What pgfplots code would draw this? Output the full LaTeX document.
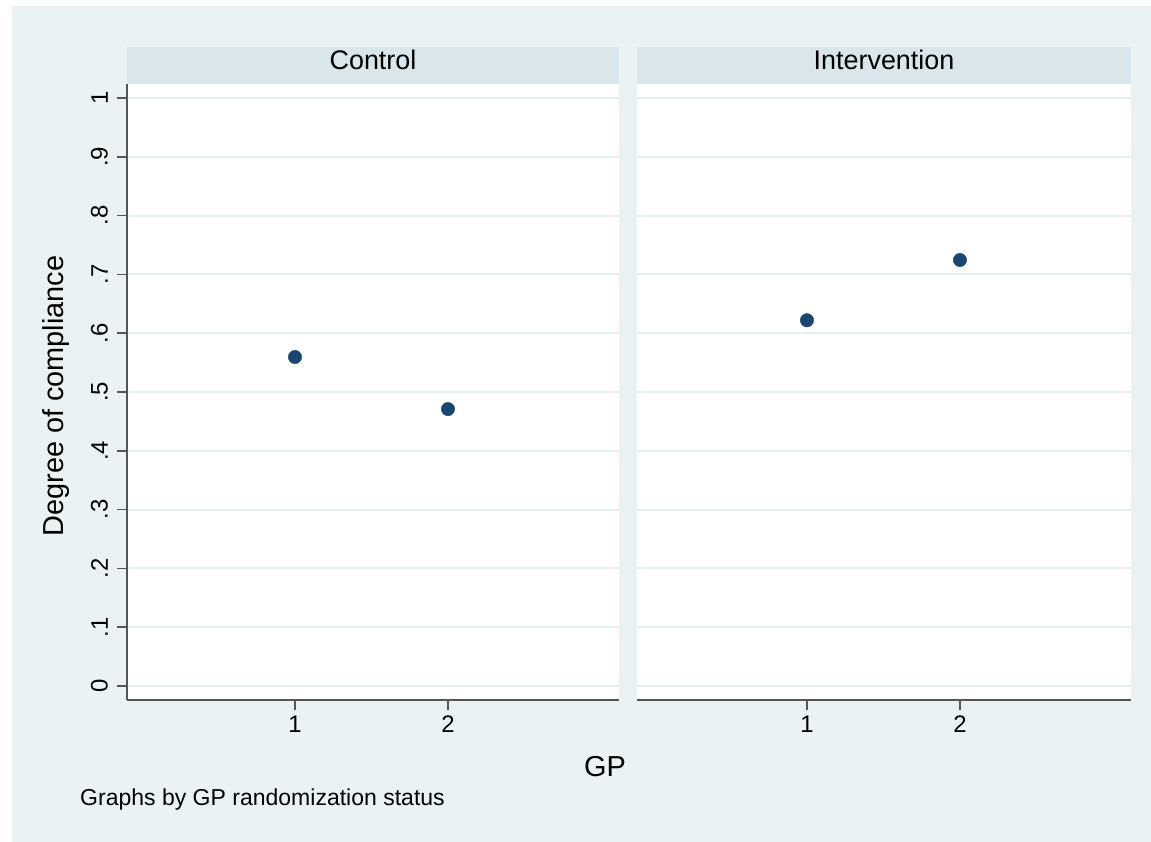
\documentclass[border=0pt]{standalone}
\usepackage{pgfplots}
\pgfplotsset{compat=1.18}
\usepackage{fontspec}
\setmainfont{Liberation Sans}
\definecolor{bgc}{HTML}{EAF2F3}
\definecolor{stripc}{HTML}{D9E6EB}
\definecolor{gridc}{HTML}{E6EFF1}
\definecolor{navy}{HTML}{1A476F}
\definecolor{axc}{HTML}{555555}
\begin{document}
\begin{tikzpicture}[x=1bp,y=1bp]
\useasboundingbox (0,0) rectangle (1151,-842);
\fill[white] (0,0) rectangle (1151,-842);
\fill[bgc] (12,-6) rectangle (1151,-842);
% strips
\fill[stripc] (127,-47) rectangle (619,-84);
\fill[stripc] (637,-47) rectangle (1131,-84);
\node[anchor=base,inner sep=0,font=\fontsize{27}{32}\selectfont] at (373,-69.3) {Control};
\node[anchor=base,inner sep=0,font=\fontsize{27}{32}\selectfont] at (884,-69.3) {Intervention};
\pgfplotsset{
  panel/.style={
    scale only axis,
    height=616bp,
    ymin=-0.0238, ymax=1.0238,
    xmax=3.118,
    axis background/.style={fill=white},
    axis x line*=bottom,
    axis y line*=left,
    axis line style={draw=axc, line width=2bp, -},
    xtick={1,2},
    xticklabels={1,2},
    ytick={0,0.1,0.2,0.3,0.4,0.5,0.6,0.7,0.8,0.9,1},
    ymajorgrids,
    major grid style={draw=gridc, line width=2bp},
    tick align=outside,
    major tick length=10bp,
    tick style={draw=axc, line width=1.5bp},
    /pgf/number format/assume math mode=true,
    xticklabel style={font=\fontsize{24}{28}\selectfont, inner sep=5.5bp},
    yticklabel style={font=\fontsize{24}{28}\selectfont, rotate=90, anchor=south, inner sep=9bp},
    clip=false,
  }
}
\begin{axis}[panel, at={(127bp,-700bp)}, anchor=south west, width=492bp, xmin=-0.098,
  yticklabels={0,.1,.2,.3,.4,.5,.6,.7,.8,.9,1}]
\addplot[only marks, mark=*, mark size=6.7bp, color=navy, mark options={draw=navy, fill=navy}]
  coordinates {(1,0.5595) (2,0.471)};
\end{axis}
\begin{axis}[panel, at={(637bp,-700bp)}, anchor=south west, width=494bp, xmin=-0.111,
  yticklabels={}, y axis line style={draw=none}, ytick style={draw=none}]
\addplot[only marks, mark=*, mark size=6.7bp, color=navy, mark options={draw=navy, fill=navy}]
  coordinates {(1,0.622) (2,0.7245)};
\end{axis}
\node[rotate=90,anchor=base,inner sep=0,font=\fontsize{29}{34}\selectfont] at (63,-396) {Degree of compliance};
\node[anchor=base,inner sep=0,font=\fontsize{29}{34}\selectfont] at (605,-776.7) {GP};
\node[anchor=base west,inner sep=0,font=\fontsize{23.1}{27}\selectfont] at (80,-805) {Graphs by GP randomization status};
\end{tikzpicture}
\end{document}
